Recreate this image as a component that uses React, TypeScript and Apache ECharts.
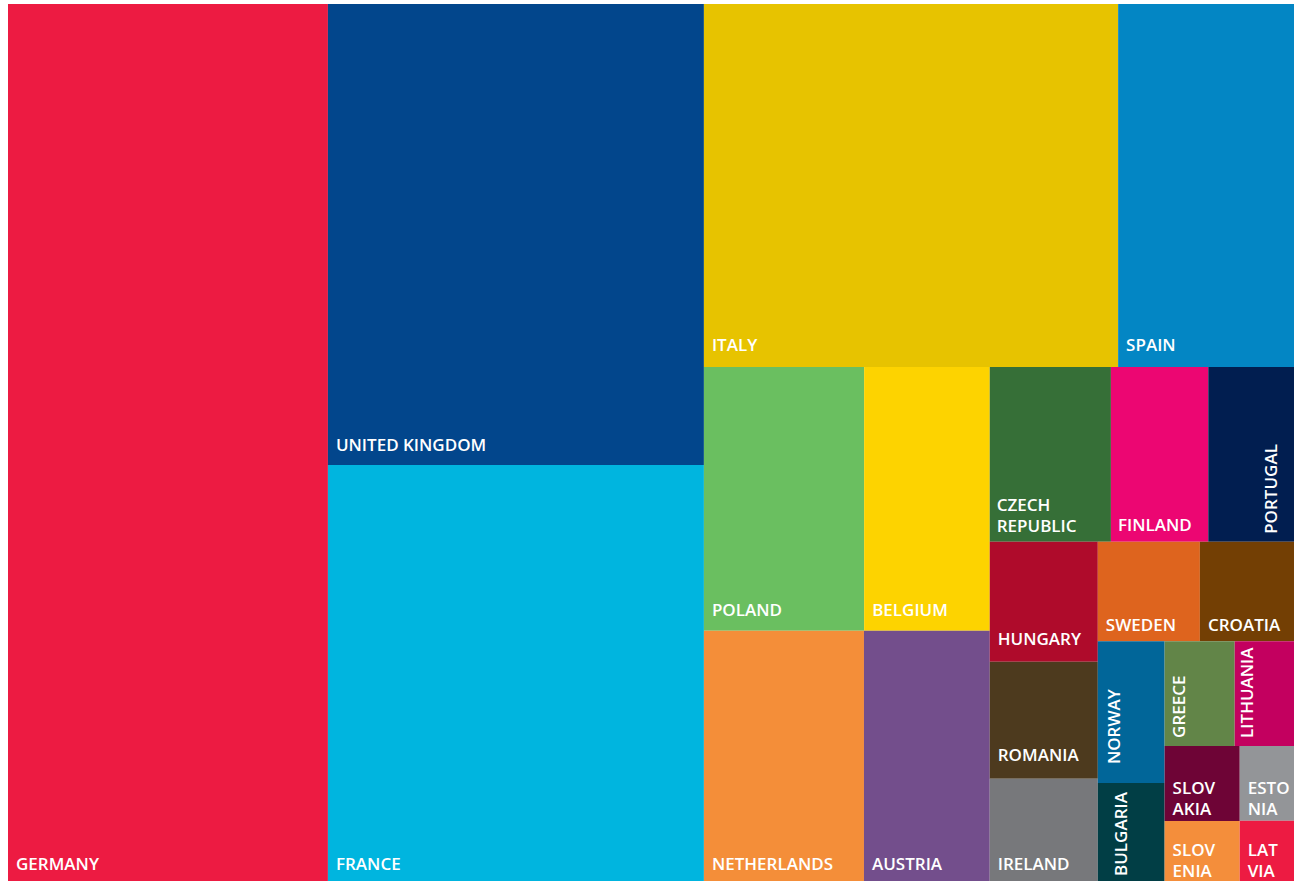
import { useEffect, useRef } from 'react';
import * as echarts from 'echarts';

// ---- data (share of total, %) ----
const COUNTRIES = [
  'GERMANY', 'UNITED KINGDOM', 'FRANCE', 'ITALY', 'SPAIN',
  'POLAND', 'BELGIUM', 'NETHERLANDS', 'AUSTRIA',
  'CZECH REPUBLIC', 'FINLAND', 'PORTUGAL',
  'HUNGARY', 'ROMANIA', 'IRELAND', 'SWEDEN', 'CROATIA',
  'NORWAY', 'BULGARIA', 'GREECE', 'LITHUANIA',
  'SLOVAKIA', 'SLOVENIA', 'ESTONIA', 'LATVIA',
];
const SHARES = [
  24.88, 15.37, 13.87, 13.33, 5.66,
  3.75, 2.94, 3.55, 2.79,
  1.88, 1.51, 1.33,
  1.15, 1.12, 0.98, 0.90, 0.83,
  0.84, 0.58, 0.65, 0.55,
  0.50, 0.40, 0.36, 0.29,
];
const LABEL_LINES: Record<string, string> = {
  'CZECH REPUBLIC': 'CZECH\nREPUBLIC',
  SLOVAKIA: 'SLOV\nAKIA',
  ESTONIA: 'ESTO\nNIA',
  SLOVENIA: 'SLOV\nENIA',
  LATVIA: 'LAT\nVIA',
};

// ---- styles ----
const COLORS: Record<string, string> = {
  GERMANY: '#ED1B42', 'UNITED KINGDOM': '#02468C', FRANCE: '#00B5DF', ITALY: '#E7C300', SPAIN: '#0386C4',
  POLAND: '#6ABF60', BELGIUM: '#FDD300', NETHERLANDS: '#F48E39', AUSTRIA: '#734E8C',
  'CZECH REPUBLIC': '#366F37', FINLAND: '#EC0672', PORTUGAL: '#011E50',
  HUNGARY: '#AF0B2B', ROMANIA: '#4D3A1E', IRELAND: '#77787B', SWEDEN: '#DE641E', CROATIA: '#733F04',
  NORWAY: '#016699', BULGARIA: '#013E45', GREECE: '#628548', LITHUANIA: '#C3005F',
  SLOVAKIA: '#6E0436', SLOVENIA: '#F48E3B', ESTONIA: '#939598', LATVIA: '#ED1B42',
};
// b: gap between cell bottom and text; x: gap from cell left; lh: line height; rotate: vertical text
type LabelStyle = { b: number; x?: number; lh?: number; rotate?: boolean };
const LABEL_STYLE: Record<string, LabelStyle> = {
  GERMANY: { b: 11 }, 'UNITED KINGDOM': { b: 14 }, FRANCE: { b: 11 }, ITALY: { b: 16 }, SPAIN: { b: 16 },
  POLAND: { b: 14.5 }, BELGIUM: { b: 14.5 }, NETHERLANDS: { b: 11 }, AUSTRIA: { b: 11 },
  'CZECH REPUBLIC': { b: 9.7, x: 7, lh: 21 }, FINLAND: { b: 10.4, x: 7 }, PORTUGAL: { b: 9, x: 57, rotate: true },
  HUNGARY: { b: 17 }, ROMANIA: { b: 17.5 }, IRELAND: { b: 11 }, SWEDEN: { b: 10 }, CROATIA: { b: 10 },
  NORWAY: { b: 20, x: 10, rotate: true }, BULGARIA: { b: 6, x: 17, rotate: true },
  GREECE: { b: 9, x: 8.3, rotate: true }, LITHUANIA: { b: 9, x: 6.7, rotate: true },
  SLOVAKIA: { b: 6, lh: 21 }, ESTONIA: { b: 6, lh: 21 }, SLOVENIA: { b: 4.3, lh: 21 }, LATVIA: { b: 4.3, lh: 21 },
};

const W = 1286;
const H = 877;
const FONT = "'Open Sans', 'Noto Sans', sans-serif";
const FONT_SIZE = 17;
const CAP_DROP = 6.6; // caps bottom below line centre
const CAP_RISE = 4.5; // caps top below line top (20px line)

// ---- arrangement of the blocks (h: side by side, v: stacked) ----
type Block = string | { dir: 'h' | 'v'; kids: Block[] };
const row = (...kids: Block[]): Block => ({ dir: 'h', kids });
const col = (...kids: Block[]): Block => ({ dir: 'v', kids });

const SMALL = col(row('GREECE', 'LITHUANIA'), row(col('SLOVAKIA', 'SLOVENIA'), col('ESTONIA', 'LATVIA')));
const LOWER = row(col('NORWAY', 'BULGARIA'), SMALL);
const EAST = row(col('HUNGARY', 'ROMANIA', 'IRELAND'), col(row('SWEDEN', 'CROATIA'), LOWER));
const CENTRE = col(row('CZECH REPUBLIC', 'FINLAND', 'PORTUGAL'), EAST);
const MIDDLE = col(row('POLAND', 'BELGIUM'), row('NETHERLANDS', 'AUSTRIA'));
const LAYOUT: Block = row(
  'GERMANY',
  row(col('UNITED KINGDOM', 'FRANCE'), col(row('ITALY', 'SPAIN'), row(MIDDLE, CENTRE)))
);

const share = (name: string) => SHARES[COUNTRIES.indexOf(name)];
const total = (b: Block): number =>
  typeof b === 'string' ? share(b) : b.kids.reduce((s, k) => s + total(k), 0);

const SQUARE_RATIO = 50;
const spacer = () => ({
  name: '',
  value: 1e-9,
  label: { show: false },
  itemStyle: { color: 'rgba(0,0,0,0)' },
});

function leafNode(name: string, w: number, h: number) {
  const st = LABEL_STYLE[name];
  const text = LABEL_LINES[name] ?? name;
  let label: any;
  if (st.rotate) {
    label = {
      position: 'insideBottomLeft', rotate: 90, align: 'left', verticalAlign: 'top',
      lineHeight: 20, padding: [st.x! - CAP_RISE, 0, 0, st.b - 1], formatter: text,
    };
  } else {
    const lh = st.lh ?? 20;
    const n = text.split('\n').length;
    const top = h - st.b - CAP_DROP - lh / 2 - (n - 1) * lh;
    label = {
      position: 'insideTopLeft', align: 'left', verticalAlign: 'top',
      lineHeight: lh, padding: [top, 0, 0, st.x ?? 8], formatter: text,
    };
  }
  return { name, value: share(name), itemStyle: { color: COLORS[name] }, label };
}

function build(b: Block, w: number, h: number): any {
  if (typeof b === 'string') return leafNode(b, w, h);
  return split(b.dir, b.kids, w, h);
}

function split(dir: 'h' | 'v', kids: Block[], w: number, h: number): any {
  if (kids.length === 1) return build(kids[0], w, h);
  const [first, ...rest] = kids;
  const frac = total(first) / kids.reduce((s, k) => s + total(k), 0);
  const a = dir === 'h' ? build(first, w * frac, h) : build(first, w, h * frac);
  const b = dir === 'h' ? split(dir, rest, w * (1 - frac), h) : split(dir, rest, w, h * (1 - frac));
  const natural = w <= h ? 'h' : 'v';
  return {
    name: '',
    children: natural === dir ? [a, b] : [a, spacer(), b],
    label: { show: false },
  };
}

export default function App() {
  const ref = useRef<HTMLDivElement>(null);
  useEffect(() => {
    const chart = echarts.init(ref.current!, undefined, { renderer: 'svg' });
    chart.setOption({
      animation: false,
      series: [
        {
          type: 'treemap',
          left: 0,
          top: 0,
          width: '100%',
          height: '100%',
          roam: false,
          nodeClick: false,
          silent: true,
          sort: false,
          squareRatio: SQUARE_RATIO,
          breadcrumb: { show: false },
          itemStyle: { borderWidth: 0, gapWidth: 0, borderColor: 'rgba(0,0,0,0)' },
          upperLabel: { show: false },
          label: {
            show: true, color: '#fff', fontFamily: FONT, fontSize: FONT_SIZE, fontWeight: 600,
            overflow: 'none', distance: 0,
          },
          data: [build(LAYOUT, W, H)],
        },
      ],
    });
    return () => chart.dispose();
  }, []);
  return <div ref={ref} style={{ position: 'absolute', left: 8, top: 4, width: W, height: H }} />;
}
